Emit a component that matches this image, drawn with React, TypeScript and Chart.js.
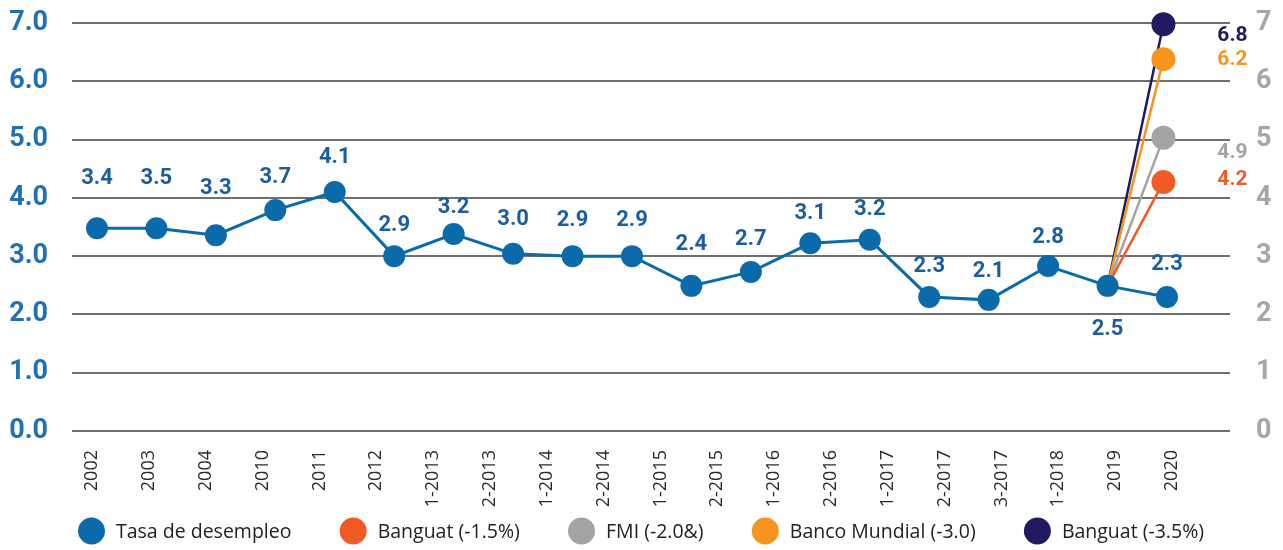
import React, { useEffect, useRef } from "react";
import { Chart, registerables } from "chart.js";

Chart.register(...registerables);

// ---- data ----
const CATEGORIES = [
  "2002", "2003", "2004", "2010", "2011", "2012", "1-2013", "2-2013", "1-2014", "2-2014",
  "1-2015", "2-2015", "1-2016", "2-2016", "1-2017", "2-2017", "3-2017", "1-2018", "2019", "2020",
];
const RATE_NAME = "Tasa de desempleo";
const RATE_VALUES = [3.48, 3.48, 3.36, 3.79, 4.1, 3.0, 3.38, 3.04, 3.0, 3.0, 2.49, 2.73, 3.22, 3.28, 2.3, 2.25, 2.83, 2.49, 2.3];
const RATE_LABELS = ["3.4", "3.5", "3.3", "3.7", "4.1", "2.9", "3.2", "3.0", "2.9", "2.9", "2.4", "2.7", "3.1", "3.2", "2.3", "2.1", "2.8", "2.5", "2.3"];

const PROJ_NAMES = ["Banguat (-1.5%)", "FMI (-2.0&)", "Banco Mundial (-3.0)", "Banguat (-3.5%)"];
const PROJ_VALUES = [4.27, 5.03, 6.38, 6.98];
const PROJ_LABELS = ["4.2", "4.9", "6.2", "6.8"];
const PROJ_START_INDEX = 17;
const PROJ_END_X = 17.94;

const LEFT_TICKS = [0, 1, 2, 3, 4, 5, 6, 7];

// ---- styles ----
const BLUE = "#0b6aa9";
const LABEL_BLUE = "#1b5e9f";
const TICK_BLUE = "#1f70b5";
const PROJ_COLORS = ["#f15a24", "#a3a3a3", "#f7941d", "#201b61"];
const GRID = "#6f6f6f";
const RATE_LABEL_OFFSETS = [50, 50, 47, 33, 35, 31, 26, 34, 36, 36, 41, 32, 30, 30, 30, 28, 29, -44, 32];
const PROJ_LABEL_DY = [-2, 15, 1, 12];
const PROJ_LABEL_DX = 69;

const valueLabelPlugin = {
  id: "valueLabels",
  afterDatasetsDraw(chart: any) {
    const ctx = chart.ctx;
    ctx.save();
    ctx.font = "bold 22px Roboto";
    ctx.textAlign = "center";
    ctx.textBaseline = "middle";
    ctx.fillStyle = LABEL_BLUE;
    const meta = chart.getDatasetMeta(0);
    meta.data.forEach((pt: any, i: number) => {
      ctx.fillText(RATE_LABELS[i], pt.x, pt.y - RATE_LABEL_OFFSETS[i]);
    });
    ctx.font = "bold 21px Roboto";
    for (let k = 0; k < PROJ_NAMES.length; k++) {
      const m = chart.getDatasetMeta(k + 1);
      const p = m.data[1];
      ctx.fillStyle = PROJ_COLORS[k];
      ctx.fillText(PROJ_LABELS[k], p.x + PROJ_LABEL_DX, p.y + PROJ_LABEL_DY[k]);
    }
    ctx.restore();
  },
};

const legendPlugin = {
  id: "customLegend",
  afterDraw(chart: any) {
    const ctx = chart.ctx;
    const items = chart.data.datasets.map((d: any) => ({ text: d.label, color: d.pointBackgroundColor }));
    ctx.save();
    ctx.font = "19.5px 'Open Sans'";
    ctx.textBaseline = "middle";
    ctx.textAlign = "left";
    const dia = 27;
    const gapText = 11;
    const startX = 78;
    const endX = 1204;
    const widths = items.map((it: any) => dia + gapText + ctx.measureText(it.text).width);
    const total = widths.reduce((a: number, b: number) => a + b, 0);
    const gap = (endX - startX - total) / (items.length - 1);
    const y = 531;
    let x = startX;
    items.forEach((it: any, i: number) => {
      ctx.beginPath();
      ctx.fillStyle = it.color;
      ctx.arc(x + dia / 2, y, dia / 2, 0, Math.PI * 2);
      ctx.fill();
      ctx.fillStyle = "#222222";
      ctx.fillText(it.text, x + dia + gapText, y + 1);
      x += widths[i] + gap;
    });
    ctx.restore();
  },
};

export default function App() {
  const canvasRef = useRef<HTMLCanvasElement | null>(null);

  useEffect(() => {
    if (!canvasRef.current) return;
    const rateData = RATE_VALUES.map((v, i) => ({ x: i, y: v }));
    const projSets = PROJ_NAMES.map((name, k) => ({
      label: name,
      data: [
        { x: PROJ_START_INDEX, y: RATE_VALUES[PROJ_START_INDEX] },
        { x: PROJ_END_X, y: PROJ_VALUES[k] },
      ],
      borderColor: PROJ_COLORS[k],
      backgroundColor: PROJ_COLORS[k],
      pointBackgroundColor: PROJ_COLORS[k],
      pointBorderWidth: 0,
      pointRadius: [0, 12],
      pointHoverRadius: [0, 12],
      borderWidth: 2.5,
      xAxisID: "xd",
      yAxisID: "y",
      order: 1,
      clip: false as any,
    }));

    const chart = new Chart(canvasRef.current, {
      type: "line",
      data: {
        datasets: [
          {
            label: RATE_NAME,
            data: rateData,
            borderColor: BLUE,
            backgroundColor: BLUE,
            pointBackgroundColor: BLUE,
            pointBorderWidth: 0,
            pointRadius: 11,
            borderWidth: 3,
            xAxisID: "xd",
            yAxisID: "y",
            order: 0,
            clip: false as any,
          },
          ...projSets,
        ] as any,
      },
      options: {
        animation: false,
        responsive: true,
        maintainAspectRatio: false,
        layout: { padding: { top: 23, left: 0, right: 0, bottom: 39 } },
        plugins: {
          legend: { display: false },
          tooltip: { enabled: false },
        },
        scales: {
          xd: {
            type: "linear",
            display: false,
            min: -0.42,
            max: 19.06,
          },
          x: {
            type: "linear",
            position: "bottom",
            min: -0.352,
            max: 20.02,
            bounds: "data",
            grid: { display: false, drawTicks: false },
            border: { display: false },
            afterBuildTicks: (axis: any) => {
              axis.ticks = CATEGORIES.map((_, i) => ({ value: i }));
            },
            afterFit: (s: any) => {
              s.height = 80;
              s.paddingLeft = 0;
              s.paddingRight = 0;
            },
            ticks: {
              autoSkip: false,
              minRotation: 90,
              maxRotation: 90,
              padding: 19,
              color: "#2b2b2b",
              font: { family: "'Open Sans'", size: 18 },
              callback: (v: any) => CATEGORIES[Math.round(Number(v))] ?? "",
            },
          },
          y: {
            type: "linear",
            position: "left",
            min: 0,
            max: 7,
            afterBuildTicks: (axis: any) => {
              axis.ticks = LEFT_TICKS.map((v) => ({ value: v }));
            },
            afterFit: (s: any) => {
              s.width = 72;
              s.paddingTop = 0;
              s.paddingBottom = 0;
            },
            grid: { color: GRID, lineWidth: 2, drawTicks: false },
            border: { display: false },
            ticks: {
              padding: 24,
              color: TICK_BLUE,
              font: { family: "Roboto", size: 27, weight: "bold" },
              callback: (v: any) => Number(v).toFixed(1),
            },
          },
          y1: {
            type: "linear",
            position: "right",
            min: 0,
            max: 7,
            afterBuildTicks: (axis: any) => {
              axis.ticks = LEFT_TICKS.map((v) => ({ value: v }));
            },
            afterFit: (s: any) => {
              s.width = 53;
              s.paddingTop = 0;
              s.paddingBottom = 0;
            },
            grid: { display: false, drawTicks: false },
            border: { display: false },
            ticks: {
              padding: 26,
              color: "#a6a6a6",
              font: { family: "Roboto", size: 27, weight: "bold" },
              callback: (v: any) => String(v),
            },
          },
        } as any,
      },
      plugins: [valueLabelPlugin, legendPlugin],
    });
    return () => chart.destroy();
  }, []);

  return (
    <div style={{ position: "absolute", left: 0, top: 0, width: 1283, height: 550, background: "#ffffff" }}>
      <canvas ref={canvasRef} />
    </div>
  );
}
